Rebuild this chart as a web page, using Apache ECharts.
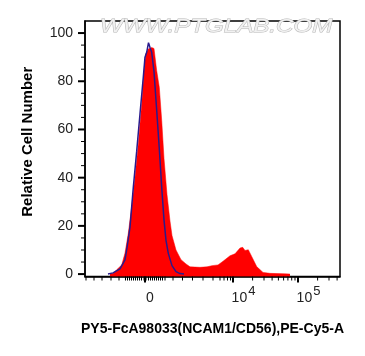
<!DOCTYPE html>
<html><head><meta charset="utf-8">
<script src="https://cdn.jsdelivr.net/npm/echarts@6/dist/echarts.min.js"></script>
<style>html,body{margin:0;padding:0;background:#fff}#c{width:365px;height:356px}</style>
</head><body><div id="c"></div>
<script>
// x in display units of the biexponential axis (0 = zero, 10^4 = 88, 10^5 = 153)
const sampleX = [-35,-31.7,-28.3,-23.3,-20,-16.7,-13.3,-10,-6.7,-3.3,-1,0.7,3.3,6.7,9,11.7,14.3,16.7,19,22,25,27,31,36,41,45,55,62,67,73,78,85,90,95,97.7,100,103.3,106.7,111.7,118,125,140,145];
const sampleY = [0,0.3,1.8,3.8,8.7,16.9,27.9,40.3,54.1,70.7,84.4,91.3,93.4,94.0,93.6,84.4,77.5,63.8,48,33,22,16,10,6,4.2,3,2.8,3,3.5,3.8,5.3,7.6,8.4,10.8,11.1,9.8,10.1,7.3,3.1,0.7,0.3,0.1,0];
const controlX = [-37,-32,-25,-20,-18,-15,-11.7,-8.3,-5,-1.7,0,1.7,3.5,5,6.7,9,11.7,14.3,16.7,19,21,23.3,27,31,35,39];
const controlY = [0,0.5,2.2,5.9,11,19.5,36,51,66.5,81.7,90,92,96,94,92,84,68,52,36,22.5,14,8.6,3.5,1,0.2,0];
const yMajorTicks = [0,20,40,60,80,100];
const yMinorTicks = [5,10,15,25,30,35,45,50,55,65,70,75,85,90,95];
const xMajorTicks = [0,88,153];
const xMinorTicks = [-59,-51,-43,-34,-26,-19.5,-17.5,-15.5,-13.5,-11.5,-9.5,-7.5,-5.5,-3.5,-1,1,3.5,5.5,7.5,9.5,11.5,13.5,15.5,17.5,20,28,37.5,47.5,58,68,75,79,82.5,85.5,107.6,119,127.1,133.4,138.6,142.9,146.7,150,172.6,184,192.1];
const xLabelPos = [5,98.5,163.5];
const xLabelText = ['{b|0}','{b|10}{s|4}','{b|10}{s|5}'];
const xTitle = 'PY5-FcA98033(NCAM1/CD56),PE-Cy5-A';
const yTitle = 'Relative Cell Number';
const watermark = 'WWW.PTGLAB.COM';

const xmin=-60, xmax=195, ymin=-1, ymax=105;

// tick marks as small rectangles anchored at axis values
function tickMarks(values, axis, len, w){
  return {type:'scatter',silent:true,clip:false,z:6,xAxisIndex:0,yAxisIndex:0,
    symbol:'rect',
    symbolSize: axis==='x' ? [w,len] : [len,w],
    symbolOffset: axis==='x' ? [0,len/2] : [-len/2,0],
    itemStyle:{color:'#000',opacity:1},
    emphasis:{disabled:true},
    data: values.map(v => axis==='x' ? [v, ymin] : [xmin, v])};
}

const option = {
  animation:false,
  grid:{left:85,right:25,top:21,bottom:79.5,show:true,borderColor:'#000',borderWidth:1.5,outerBoundsMode:'none',containLabel:false},
  graphic:[{type:'text',x:100,y:17,scaleX:1.27,z:1,silent:true,
    style:{text:watermark,font:'italic 19px "Liberation Sans", Arial',fill:'#f1f1f1',stroke:'#b5b5b5',lineWidth:0.9,verticalAlign:'top',align:'left'}}],
  xAxis:[{type:'value',min:xmin,max:xmax,position:'bottom',
     name:xTitle,nameLocation:'middle',nameGap:46,
     nameTextStyle:{fontFamily:'Liberation Sans, Arial',fontWeight:'bold',fontSize:14,color:'#000'},
     axisLine:{show:true,onZero:false,lineStyle:{color:'#000',width:1.5}},
     axisTick:{show:false},
     axisLabel:{show:true,customValues:xLabelPos,margin:10,
       formatter:function(v){for(let i=0;i<xLabelPos.length;i++){if(Math.abs(v-xLabelPos[i])<0.01)return xLabelText[i];}return '';},
       rich:{b:{fontFamily:'Liberation Sans, Arial',fontSize:14,color:'#222',lineHeight:16,padding:[8,0,0,0]},
             s:{fontFamily:'Liberation Sans, Arial',fontSize:13,color:'#222',lineHeight:16,padding:[0,0,7,1]}}},
     splitLine:{show:false}}],
  yAxis:[{type:'value',min:ymin,max:ymax,position:'left',
     name:yTitle,nameLocation:'middle',nameGap:50,
     nameTextStyle:{fontFamily:'Liberation Sans, Arial',fontWeight:'bold',fontSize:15,color:'#000',padding:[0,0,0,14]},
     axisLine:{show:true,onZero:false,lineStyle:{color:'#000',width:1.5}},
     axisTick:{show:false},
     axisLabel:{show:true,customValues:yMajorTicks,margin:12,fontSize:14,fontFamily:'Liberation Sans, Arial',color:'#222'},
     splitLine:{show:false}}],
  series:[
    {type:'line',showSymbol:false,symbol:'none',z:3,
     data:sampleX.map((x,i)=>[x,sampleY[i]]),
     lineStyle:{width:0.5,color:'#ff0000'},areaStyle:{color:'#ff0000',opacity:1,origin:'start'}},
    {type:'line',showSymbol:false,symbol:'none',z:4,
     data:controlX.map((x,i)=>[x,controlY[i]]),
     lineStyle:{width:1.5,color:'#2a1a8c'}},
    tickMarks(xMajorTicks,'x',6,2),
    tickMarks(xMinorTicks,'x',4,1),
    tickMarks(yMajorTicks,'y',7,2),
    tickMarks(yMinorTicks,'y',4,1)
  ]
};
const chart = echarts.init(document.getElementById('c'));
chart.setOption(option);
</script></body></html>
